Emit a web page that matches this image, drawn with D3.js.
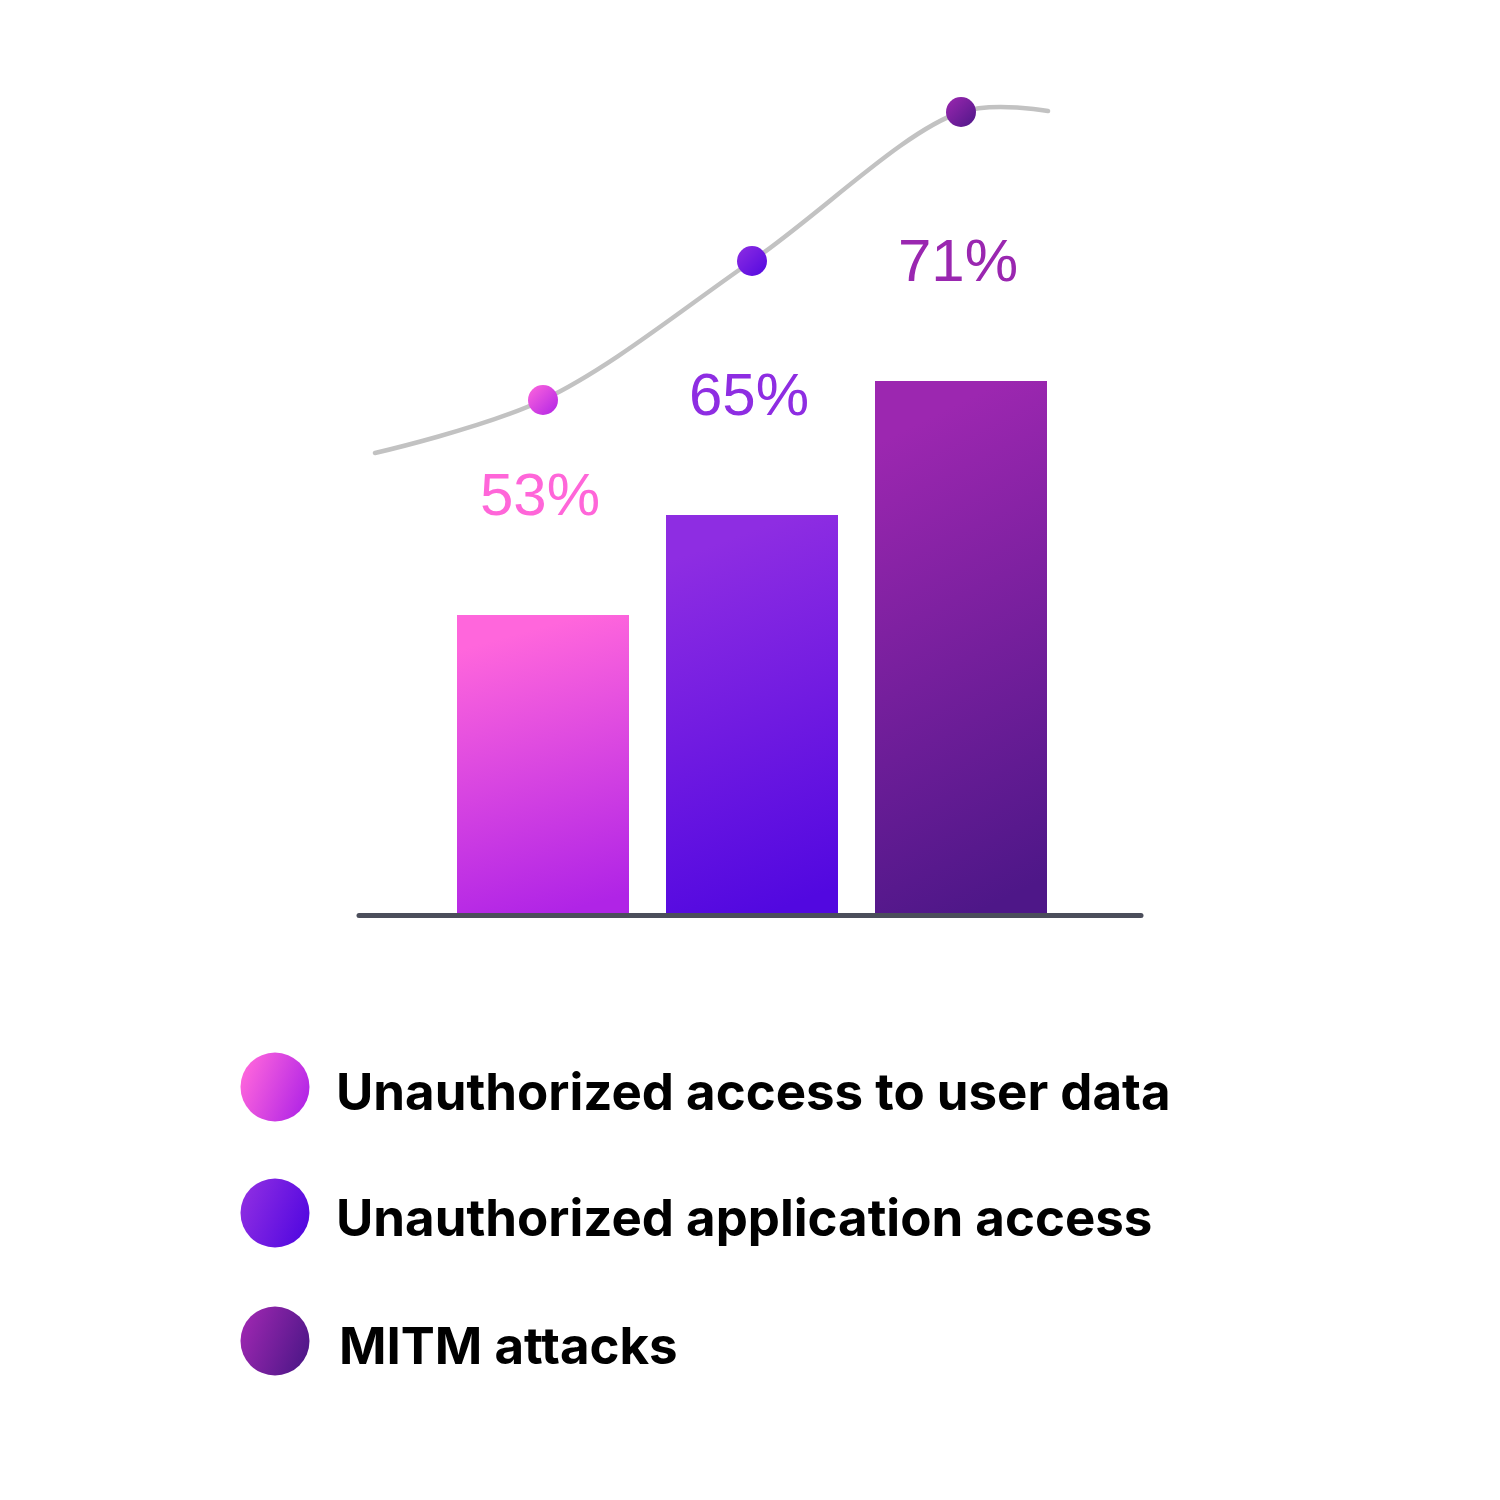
<!DOCTYPE html>
<html><head><meta charset="utf-8">
<script src="https://cdn.jsdelivr.net/npm/d3@7"></script>
<style>html,body{margin:0;padding:0;background:#fff}</style>
</head><body>
<script>
const categories = ["Unauthorized access to user data", "Unauthorized application access", "MITM attacks"];
const values = [53, 65, 71];
const labels = ["53%", "65%", "71%"];
const topColors = ["#ff66dc", "#8e2de2", "#9c27b0"];
const bottomColors = ["#b024e6", "#5208e0", "#4e1788"];
const labelColors = ["#ff66d9", "#8e2de2", "#9a27b0"];

const W = 1500, H = 1500;
const svg = d3.select("body").append("svg").attr("width", W).attr("height", H);
const defs = svg.append("defs");

categories.forEach((c, i) => {
  const g = defs.append("linearGradient").attr("id", "bar" + i)
    .attr("x1", 0.42).attr("y1", 0).attr("x2", 0.58).attr("y2", 1);
  g.append("stop").attr("offset", "0.05").attr("stop-color", topColors[i]);
  g.append("stop").attr("offset", "1").attr("stop-color", bottomColors[i]);
  const h = defs.append("linearGradient").attr("id", "leg" + i)
    .attr("x1", 0).attr("y1", 0.3).attr("x2", 1).attr("y2", 0.7);
  h.append("stop").attr("offset", "0").attr("stop-color", topColors[i]);
  h.append("stop").attr("offset", "1").attr("stop-color", bottomColors[i]);
  const d = defs.append("linearGradient").attr("id", "dot" + i)
    .attr("x1", 0).attr("y1", 0).attr("x2", 1).attr("y2", 1);
  d.append("stop").attr("offset", "0").attr("stop-color", topColors[i]);
  d.append("stop").attr("offset", "1").attr("stop-color", bottomColors[i]);
});

const x = d3.scaleBand().domain(categories).range([457, 1047]).paddingInner(37 / 209).paddingOuter(0);
// bar heights in the original are not proportional; piecewise scale
const y = d3.scaleLinear().domain([0, 53, 65, 71]).range([914, 615, 515, 381]);
const yTrend = d3.scaleLinear().domain([53, 65, 71]).range([400, 261, 112]);

// trend curve
const cx = i => x(categories[i]) + x.bandwidth() / 2;
const pts = [[375, 453]].concat(values.map((v, i) => [cx(i), yTrend(v)])).concat([[1048, 111]]);
svg.append("path").attr("d", d3.line().curve(d3.curveCatmullRom.alpha(0.5))(pts))
  .attr("fill", "none").attr("stroke", "#c2c2c2").attr("stroke-width", 4.5).attr("stroke-linecap", "round");

// bars
svg.selectAll("rect.bar").data(values).join("rect").attr("class", "bar")
  .attr("x", (v, i) => x(categories[i])).attr("width", x.bandwidth())
  .attr("y", v => y(v)).attr("height", v => y(0) - y(v))
  .attr("fill", (v, i) => `url(#bar${i})`);

// baseline
svg.append("line").attr("x1", 359).attr("x2", 1141).attr("y1", y(0) + 1.5).attr("y2", y(0) + 1.5)
  .attr("stroke", "#4b4e5b").attr("stroke-width", 5).attr("stroke-linecap", "round");

// dots
svg.selectAll("circle.dot").data(values).join("circle").attr("class", "dot")
  .attr("cx", (v, i) => cx(i)).attr("cy", v => yTrend(v)).attr("r", 15)
  .attr("fill", (v, i) => `url(#dot${i})`);

// value labels
svg.selectAll("text.val").data(values).join("text").attr("class", "val")
  .attr("x", (v, i) => cx(i) - 3).attr("y", v => y(v) - 100)
  .attr("text-anchor", "middle")
  .attr("font-family", "'Liberation Sans', Arial, sans-serif").attr("font-size", 60)
  .attr("fill", (v, i) => labelColors[i]).text((v, i) => labels[i]);

// legend
const legY = [1087, 1213, 1341];
const leg = svg.selectAll("g.leg").data(categories).join("g").attr("class", "leg");
leg.append("circle").attr("cx", 275).attr("cy", (c, i) => legY[i]).attr("r", 34.5)
  .attr("fill", (c, i) => `url(#leg${i})`);
leg.append("text").attr("x", (c, i) => i === 2 ? 339 : 336).attr("y", (c, i) => legY[i] + 23)
  .attr("font-family", "Inter, sans-serif").attr("font-weight", 700).attr("font-size", 51)
  .attr("fill", "#000").text(c => c);
</script>
</body></html>
